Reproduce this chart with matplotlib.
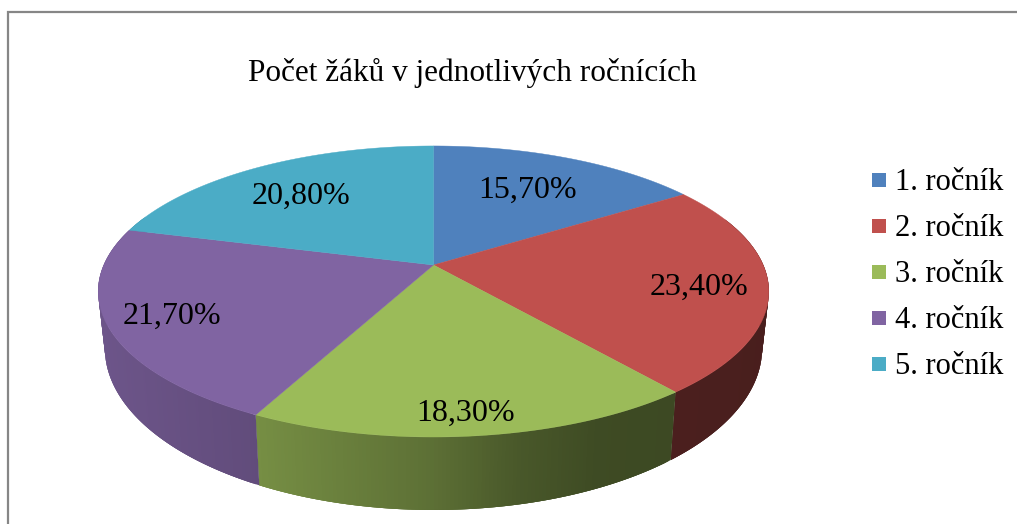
import numpy as np
import matplotlib
matplotlib.use("Agg")
import matplotlib.pyplot as plt

# Chart data
grades = ["1. ročník", "2. ročník", "3. ročník", "4. ročník", "5. ročník"]
shares = [15.7, 23.4, 18.3, 21.7, 20.8]
labels = ["15,70%", "23,40%", "18,30%", "21,70%", "20,80%"]
colors = ["#4f81bd", "#c0504d", "#9bbb59", "#8064a2", "#4bacc6"]

# Where the percent labels sit, in pixels
label_pos = [(528, 190), (699, 287), (466, 413), (172, 316), (301, 196)]
legend_y = [180, 226, 272, 318, 364]

# Perspective of the disc: centre in pixels and projection constants
cx, cy = 433.5, 265
tilt = 0.182
scale_x = 329.7
scale_y = 140.7
depth = 54

# Side wall brightness depends on the screen position
shade_x = [98, 257, 430, 520, 600, 769]
shade_k = [0.85, 0.76, 0.60, 0.47, 0.40, 0.38]


def project(angle, r=1.0):
    # angle in radians, clockwise from the top of the pie
    u = r * np.sin(angle)
    v = r * np.cos(angle)
    d = 1 + tilt * v
    return cx + scale_x * u / d, cy - scale_y * v / d


def project_bottom(angle):
    v = np.cos(angle)
    d = 1 + tilt * v
    x = cx + 0.98 * scale_x * np.sin(angle) / d
    y = cy - scale_y * v / d + depth / d**1.5
    return x, y


def darker(color, k):
    rgb = np.array(matplotlib.colors.to_rgb(color))
    return tuple(rgb * k)


fig = plt.figure(figsize=(10.17, 5.24), dpi=100)
ax = fig.add_axes([0, 0, 1, 1])
ax.set_xlim(0, 1017)
ax.set_ylim(524, 0)
ax.axis("off")

# Chart frame, only the left and top edges are in the picture
ax.plot([8, 8, 1017], [524, 12, 12], color="#868686", linewidth=1.6, solid_joinstyle="miter")

edges = np.cumsum([0] + shares) / sum(shares) * 2 * np.pi

# Side walls first, the top of the disc goes over them
# Each strip runs on under the next one so no seams show
for i in range(len(shares)):
    steps = np.arange(edges[i], edges[i + 1], 0.01)
    steps = np.append(steps, edges[i + 1])
    for j in range(len(steps) - 1):
        a0 = steps[j]
        mid = (a0 + steps[j + 1]) / 2
        if np.cos(mid) > 0.35:
            continue
        a = np.linspace(a0, steps[min(j + 3, len(steps) - 1)], 4)
        xt, yt = project(a)
        xb, yb = project_bottom(a)
        k = np.interp(project(mid)[0], shade_x, shade_k)
        ax.fill(np.r_[xt, xb[::-1]], np.r_[yt, yb[::-1]], color=darker(colors[i], k),
                linewidth=0, zorder=2)

# Top of the disc
for i in range(len(shares)):
    a = np.linspace(edges[i], edges[i + 1], 200)
    x, y = project(a)
    ax.fill(np.r_[cx, x], np.r_[cy, y], color=colors[i], linewidth=0.3, zorder=3)

serif = "Liberation Serif"

for (x, y), s in zip(label_pos, labels):
    ax.text(x, y, s, family=serif, fontsize=23, color="black", ha="center", va="center", zorder=4)

ax.text(472.5, 73, "Počet žáků v jednotlivých ročnících", family=serif, fontsize=22.5,
        color="black", ha="center", va="center")

# Legend
for y, g, c in zip(legend_y, grades, colors):
    ax.scatter([878.5], [y], marker="s", s=105, color=c, linewidths=0)
    ax.text(895, y + 10, g, family=serif, fontsize=22, color="black", ha="left", va="baseline")

fig.savefig("out.png", dpi=100)
